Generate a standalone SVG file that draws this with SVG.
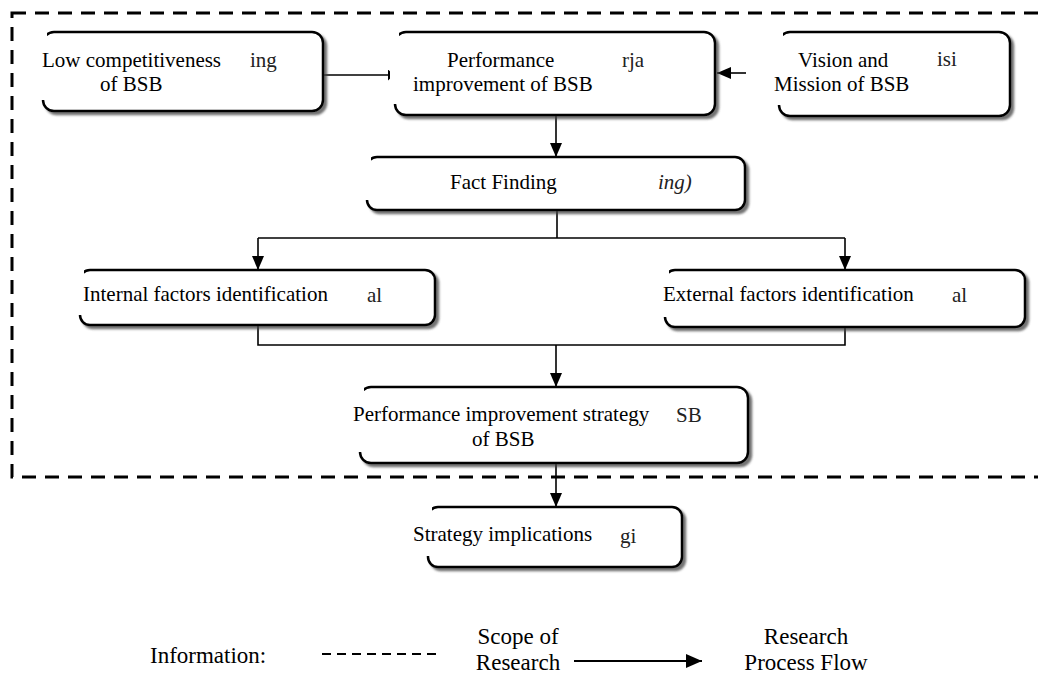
<svg xmlns="http://www.w3.org/2000/svg" width="1038" height="677" viewBox="0 0 1038 677" font-family="'Liberation Serif', 'Times New Roman', serif">
<defs>
<style>
.box{fill:#fff;stroke:#000;stroke-width:2.5;filter:url(#sh)}
.patch{fill:#fff}
.lbl{font-family:'Liberation Serif','Times New Roman',serif;font-size:21px;fill:#000}
.frag{font-family:'Liberation Serif','Times New Roman',serif;font-size:21px;fill:#222}
.lg{font-family:'Liberation Serif','Times New Roman',serif;font-size:23px;fill:#000}
.c{stroke:#000;stroke-width:1.6;fill:none}
</style>
<filter id="sh" x="-5%" y="-10%" width="115%" height="130%">
<feDropShadow dx="3" dy="3" stdDeviation="1.3" flood-color="#444" flood-opacity="0.75"/>
</filter>
<marker id="ah" markerWidth="14" markerHeight="12" refX="14" refY="6" orient="auto" markerUnits="userSpaceOnUse">
<path d="M0,0 L14,6 L0,12 z" fill="#000"/>
</marker>
<marker id="ahS" markerWidth="6" markerHeight="11" refX="6" refY="5.5" orient="auto" markerUnits="userSpaceOnUse">
<path d="M0,0 L6,5.5 L0,11 z" fill="#000"/>
</marker>
<marker id="ahL" markerWidth="16" markerHeight="14" refX="16" refY="7" orient="auto" markerUnits="userSpaceOnUse">
<path d="M0,0 L16,7 L0,14 z" fill="#000"/>
</marker>
</defs>
<rect width="1038" height="677" fill="#fff"/>

<rect id="scope" x="12" y="13" width="1045" height="464" fill="none" stroke="#000" stroke-width="3" stroke-dasharray="14 9"/>

<g id="connectors">
<line class="c" x1="323" y1="75" x2="394" y2="75" marker-end="url(#ahS)"/>
<line class="c" x1="746" y1="73" x2="717" y2="73" marker-end="url(#ah)"/>
<line class="c" x1="556" y1="115" x2="556" y2="157" marker-end="url(#ah)"/>
<polyline class="c" points="557,210 557,238"/>
<polyline class="c" points="258,238 845,238"/>
<line class="c" x1="258" y1="238" x2="258" y2="270" marker-end="url(#ah)"/>
<line class="c" x1="845" y1="238" x2="845" y2="270" marker-end="url(#ah)"/>
<polyline class="c" points="258,325 258,345 845,345 845,327"/>
<line class="c" x1="556" y1="345" x2="556" y2="387" marker-end="url(#ah)"/>
<line class="c" x1="556" y1="463" x2="556" y2="507" marker-end="url(#ah)"/>
</g>

<g id="n1">
<rect class="box" x="43" y="32" width="280" height="79" rx="11"/>
<rect class="patch" x="38" y="28" width="9" height="72"/>
<text class="lbl" font-family="'Liberation Serif', serif" x="42" y="67">Low competitiveness</text>
<text class="lbl" font-family="'Liberation Serif', serif" x="100" y="91">of BSB</text>
<text class="frag" font-family="'Liberation Serif', serif" x="250" y="67">ing</text>
</g>

<g id="n2">
<rect class="box" x="395" y="32" width="320" height="83" rx="11"/>
<rect class="patch" x="390" y="28" width="9" height="76"/>
<text class="lbl" font-family="'Liberation Serif', serif" x="447" y="67">Performance</text>
<text class="lbl" font-family="'Liberation Serif', serif" x="413" y="91">improvement of BSB</text>
<text class="frag" font-family="'Liberation Serif', serif" x="622" y="67">rja</text>
</g>

<g id="n3">
<rect class="box" x="779" y="32" width="231" height="84" rx="11"/>
<rect class="patch" x="774" y="28" width="9" height="77"/>
<text class="lbl" font-family="'Liberation Serif', serif" x="798" y="67">Vision and</text>
<text class="lbl" font-family="'Liberation Serif', serif" x="774" y="91">Mission of BSB</text>
<text class="frag" font-family="'Liberation Serif', serif" x="937" y="66">isi</text>
</g>

<g id="n4">
<rect class="box" x="367" y="157" width="378" height="53" rx="10"/>
<rect class="patch" x="362" y="153" width="9" height="47"/>
<text class="lbl" font-family="'Liberation Serif', serif" x="450" y="189">Fact Finding</text>
<text class="frag" font-family="'Liberation Serif', serif" x="658" y="189" font-style="italic">ing)</text>
</g>

<g id="n5">
<rect class="box" x="80" y="270" width="355" height="55" rx="10"/>
<rect class="patch" x="75" y="266" width="9" height="49"/>
<text class="lbl" font-family="'Liberation Serif', serif" x="83" y="301">Internal factors identification</text>
<text class="frag" font-family="'Liberation Serif', serif" x="367" y="302">al</text>
</g>

<g id="n6">
<rect class="box" x="665" y="270" width="360" height="57" rx="10"/>
<rect class="patch" x="660" y="266" width="9" height="51"/>
<text class="lbl" font-family="'Liberation Serif', serif" x="663" y="301">External factors identification</text>
<text class="frag" font-family="'Liberation Serif', serif" x="952" y="302">al</text>
</g>

<g id="n7">
<rect class="box" x="360" y="387" width="388" height="76" rx="11"/>
<rect class="patch" x="355" y="383" width="9" height="69"/>
<text class="lbl" font-family="'Liberation Serif', serif" x="353" y="421">Performance improvement strategy</text>
<text class="lbl" font-family="'Liberation Serif', serif" x="472" y="446">of BSB</text>
<text class="frag" font-family="'Liberation Serif', serif" x="676" y="422">SB</text>
</g>

<g id="n8">
<rect class="box" x="428" y="507" width="254" height="60" rx="10"/>
<rect class="patch" x="423" y="503" width="9" height="53"/>
<text class="lbl" font-family="'Liberation Serif', serif" x="413" y="541">Strategy implications</text>
<text class="frag" font-family="'Liberation Serif', serif" x="620" y="543">gi</text>
</g>

<g id="legend">
<text class="lg" x="150" y="663">Information:</text>
<line x1="322" y1="654" x2="442" y2="654" stroke="#000" stroke-width="2" stroke-dasharray="9 6"/>
<text class="lg" x="518" y="644" text-anchor="middle">Scope of</text>
<text class="lg" x="518" y="670" text-anchor="middle">Research</text>
<line x1="574" y1="661" x2="702" y2="661" stroke="#000" stroke-width="2.2" marker-end="url(#ahL)"/>
<text class="lg" x="806" y="644" text-anchor="middle">Research</text>
<text class="lg" x="806" y="670" text-anchor="middle">Process Flow</text>
</g>
</svg>
